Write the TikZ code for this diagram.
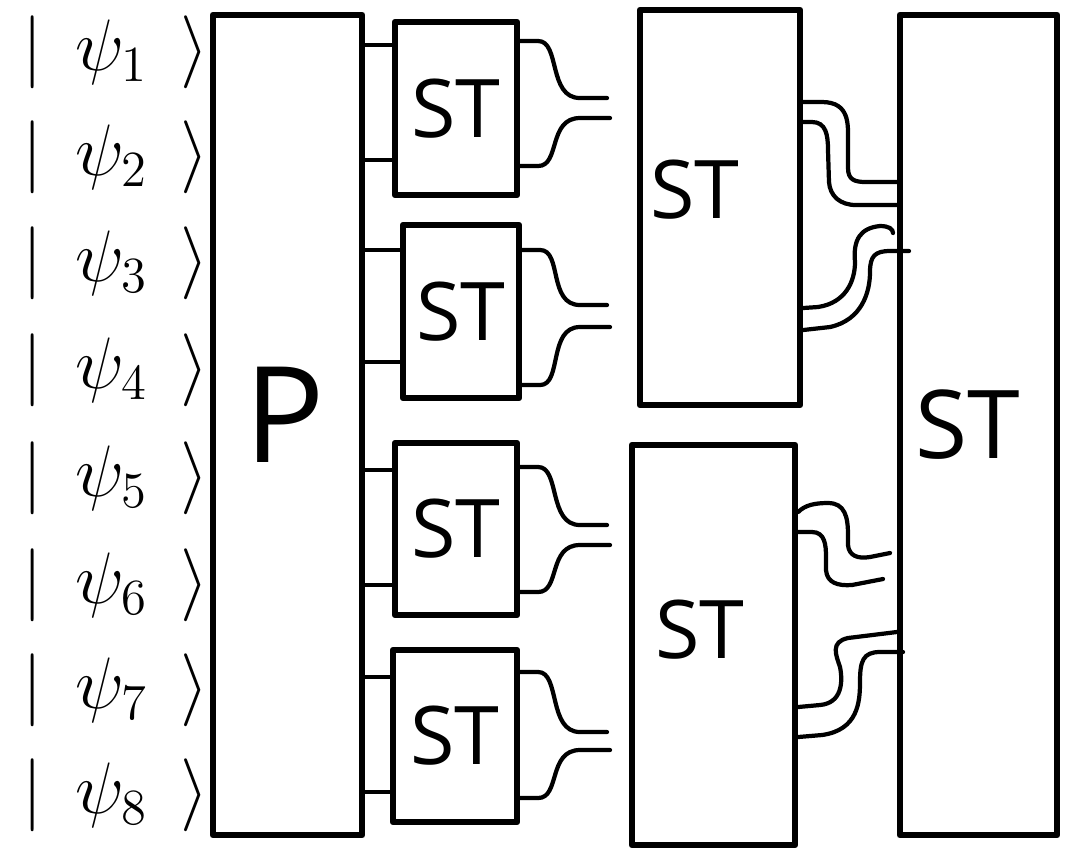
\documentclass[tikz,border=0pt]{standalone}
\usepackage{fontspec}
\setmainfont{Open Sans}
\usetikzlibrary{calc}
\tikzset{
  block/.style={draw, line width=1.8pt, rectangle, inner sep=0pt, line join=round},
  wire/.style={line width=1.2pt, line cap=round},
  stub/.style={line width=1pt, line cap=round},
  ket/.style={anchor=west, inner sep=0pt, font=\fontsize{21}{25}\selectfont},
  small/.style={font=\fontsize{23}{27}\selectfont},
}
\begin{document}
\begin{tikzpicture}[x=0.01cm, y=-0.01cm]
\useasboundingbox (0,0) rectangle (1069,850);

% input states
\foreach \i/\yy in {1/52, 2/157, 3/263, 4/370, 5/478, 6/585, 7/690, 8/795}
  \node[ket] (k\i) at (22,\yy) {$|\;\,\psi_{\i}\;\,\rangle$};

% preparation block
\node[block, minimum width=1.49cm, minimum height=8.2cm] (P) at (287.5,425) {};
\node[font=\fontsize{38}{42}\selectfont] (Plab) at (285,415) {P};

% first layer of ST blocks
\node[block, minimum width=1.22cm, minimum height=1.73cm, small] (s1) at (456,108.5) {ST};
\node[block, minimum width=1.16cm, minimum height=1.73cm, small] (s2) at (461,311.5) {ST};
\node[block, minimum width=1.22cm, minimum height=1.72cm, small] (s3) at (456,529) {ST};
\node[block, minimum width=1.24cm, minimum height=1.72cm, small] (s4) at (455,736) {ST};

% second layer
\node[block, minimum width=1.6cm, minimum height=3.95cm] (mA) at (720,207.5) {};
\node[small] (mAlab) at (695,190) {ST};
\node[block, minimum width=1.63cm, minimum height=4.0cm] (mB) at (713.5,645) {};
\node[small] (mBlab) at (700,630) {ST};

% final block
\node[block, minimum width=1.57cm, minimum height=8.2cm] (big) at (978.5,425) {};
\node[font=\fontsize{27}{31}\selectfont] (biglab) at (968,425) {ST};

% links from P into the first layer
\foreach \s/\ya/\yb in {s1/45/160, s2/250/362, s3/470/585, s4/677/792} {
  \draw[stub] (P.east |- 0,\ya) -- (\s.west |- 0,\ya);
  \draw[stub] (P.east |- 0,\yb) -- (\s.west |- 0,\yb);
}

% outputs of the first layer
\foreach \s/\ya/\ea/\yb/\eb/\n in {s1/41/98/166/118/1, s2/250/305/385/327/2, s3/467/525/592/545/3, s4/672/732/798/750/4} {
  \coordinate (oa\n) at (607,\ea);
  \coordinate (ob\n) at (610,\eb);
  \draw[wire] (\s.east |- 0,\ya) -- ++(18,0)
     .. controls ++(22,0) and (548,\ea) .. (580,\ea) -- (oa\n);
  \draw[wire] (\s.east |- 0,\yb) -- ++(18,0)
     .. controls ++(22,0) and (548,\eb) .. (580,\eb) -- (ob\n);
}

% wires from the upper middle block to the final block
\coordinate (e3) at (893,233);
\coordinate (e4) at (909,251);
\draw[wire] (mA.east |- 0,102) -- (822,102)
   .. controls (850,102) and (848,125) .. (848,140) -- (848,168)
   .. controls (848,180) and (855,182) .. (866,182) -- (big.west |- 0,182);
\draw[wire] (mA.east |- 0,122) -- (812,122)
   .. controls (826,122) and (828,135) .. (828,150) -- (829,182)
   .. controls (830,196) and (840,205) .. (856,205) -- (big.west |- 0,205);
\draw[wire] (mA.east |- 0,308) -- (818,307)
   .. controls (845,303) and (855,282) .. (855,262)
   .. controls (853,240) and (860,228) .. (880,226)
   .. controls (889,226) and (893,229) .. (e3);
\draw[wire] (mA.east |- 0,330) -- (830,327)
   .. controls (862,320) and (870,292) .. (870,272)
   .. controls (870,256) and (875,251) .. (890,251) -- (e4);

% wires from the lower middle block to the final block
\coordinate (e5) at (890,553);
\coordinate (e6) at (883,579);
\coordinate (e8) at (903,652);
\draw[wire] (mB.east |- 0,512)
   .. controls (805,505) and (815,503) .. (828,503)
   .. controls (845,503) and (848,517) .. (848,535) -- (848,545)
   .. controls (849,556) and (858,559) .. (870,557) -- (e5);
\draw[wire] (mB.east |- 0,532) -- (812,532)
   .. controls (825,532) and (826,545) .. (826,557) -- (826,570)
   .. controls (827,583) and (838,586) .. (852,585) -- (e6);
\draw[wire] (mB.east |- 0,707) -- (820,705)
   .. controls (842,703) and (843,682) .. (840,667)
   .. controls (836,655) and (830,642) .. (848,638) -- (big.west |- 0,632);
\draw[wire] (mB.east |- 0,737) -- (822,735)
   .. controls (858,730) and (860,702) .. (860,682)
   .. controls (860,661) and (863,652) .. (880,652) -- (e8);
\end{tikzpicture}
\end{document}
